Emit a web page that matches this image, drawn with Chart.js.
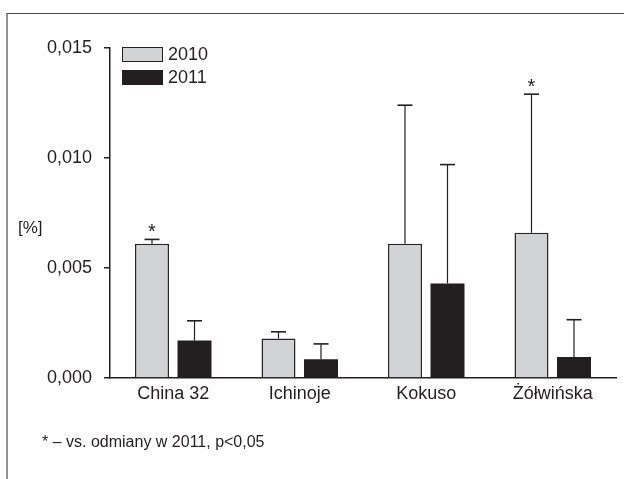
<!DOCTYPE html>
<html>
<head>
<meta charset="utf-8">
<script src="https://cdn.jsdelivr.net/npm/chart.js@4"></script>
<style>
  html, body { margin: 0; padding: 0; background: #fff; }
  #wrap { position: relative; width: 624px; height: 479px; }
</style>
</head>
<body>
<div id="wrap"><canvas id="chart" width="624" height="479"></canvas></div>
<script>
const categories = ['China 32', 'Ichinoje', 'Kokuso', 'Żółwińska'];
const years = ['2010', '2011'];
const values2010 = [0.0061, 0.0018, 0.0061, 0.0066];
const values2011 = [0.0017, 0.00085, 0.0043, 0.00095];
const sd2010 = [0.0002, 0.0003, 0.0063, 0.0063];
const sd2011 = [0.0009, 0.0007, 0.0054, 0.0017];
const signif2010 = [true, false, false, true];
const yTicks = [0, 0.005, 0.010, 0.015];

const FONT = '"Liberation Sans", Arial, sans-serif';
const INK = '#231f20';

// frame, unit label and footnote
const decorations = {
    id: 'decorations',
    beforeDraw(chart) {
        const ctx = chart.ctx;
        ctx.save();
        ctx.strokeStyle = '#4a4a4a';
        ctx.lineWidth = 1.2;
        ctx.beginPath();
        ctx.moveTo(7, 479);
        ctx.lineTo(7, 13.5);
        ctx.lineTo(624, 13.5);
        ctx.stroke();
        ctx.restore();
    },
    afterDraw(chart) {
        const ctx = chart.ctx;
        ctx.save();
        ctx.fillStyle = INK;
        ctx.font = '17px ' + FONT;
        ctx.textBaseline = 'middle';
        ctx.fillText('[%]', 18, 228);
        ctx.font = '16px ' + FONT;
        ctx.fillText('* – vs. odmiany w 2011, p<0,05', 42, 443);
        ctx.restore();
    }
};

// upper error whiskers and significance stars
const errorBars = {
    id: 'errorBars',
    afterDatasetsDraw(chart) {
        const ctx = chart.ctx;
        const y = chart.scales.y;
        const sds = [sd2010, sd2011];
        ctx.save();
        ctx.strokeStyle = INK;
        chart.data.datasets.forEach((ds, di) => {
            chart.getDatasetMeta(di).data.forEach((bar, i) => {
                const top = y.getPixelForValue(ds.data[i] + sds[di][i]);
                ctx.lineWidth = 1.2;
                ctx.beginPath();
                ctx.moveTo(bar.x, bar.y);
                ctx.lineTo(bar.x, top);
                ctx.stroke();
                ctx.lineWidth = 1.6;
                ctx.beginPath();
                ctx.moveTo(bar.x - 7.5, top);
                ctx.lineTo(bar.x + 7.5, top);
                ctx.stroke();
                if (di === 0 && signif2010[i]) {
                    ctx.fillStyle = INK;
                    ctx.font = '20px ' + FONT;
                    ctx.textAlign = 'center';
                    ctx.textBaseline = 'alphabetic';
                    ctx.fillText('*', bar.x, top - 1);
                }
            });
        });
        ctx.restore();
    }
};

// legend drawn inside the plot, top left
const boxLegend = {
    id: 'boxLegend',
    afterDraw(chart) {
        const ctx = chart.ctx;
        ctx.save();
        ctx.font = '18px ' + FONT;
        ctx.textBaseline = 'middle';
        chart.data.datasets.forEach((ds, i) => {
            const bx = 122, by = 47 + i * 23;
            ctx.fillStyle = ds.backgroundColor;
            ctx.fillRect(bx, by, 41, 15);
            ctx.strokeStyle = INK;
            ctx.lineWidth = 1;
            ctx.strokeRect(bx + 0.5, by + 0.5, 40, 14);
            ctx.fillStyle = INK;
            ctx.fillText(ds.label, bx + 46, by + 8);
        });
        ctx.restore();
    }
};

new Chart(document.getElementById('chart'), {
    type: 'bar',
    data: {
        labels: categories,
        datasets: [
            {
                label: years[0],
                data: values2010,
                backgroundColor: '#d2d3d5',
                borderColor: '#2a2627',
                borderWidth: 1.5,
                borderSkipped: 'bottom'
            },
            {
                label: years[1],
                data: values2011,
                backgroundColor: INK,
                borderColor: INK,
                borderWidth: 0
            }
        ]
    },
    options: {
        responsive: false,
        animation: false,
        layout: { padding: { left: 0, top: 48, right: 8, bottom: 71 } },
        datasets: { bar: { categoryPercentage: 0.672, barPercentage: 0.8 } },
        plugins: {
            legend: { display: false },
            tooltip: { enabled: false }
        },
        scales: {
            x: {
                grid: { display: false, drawTicks: false },
                border: { display: true, color: INK, width: 1.5 },
                ticks: { color: INK, font: { family: FONT, size: 18 }, padding: 5, maxRotation: 0 },
                afterFit(scale) { scale.height = 30; }
            },
            y: {
                min: 0,
                max: 0.015,
                afterBuildTicks(scale) { scale.ticks = yTicks.map(v => ({ value: v })); },
                grid: { drawOnChartArea: false, drawTicks: true, tickLength: 6, color: INK, lineWidth: 1.5 },
                border: { display: true, color: INK, width: 1.5 },
                ticks: {
                    color: INK,
                    font: { family: FONT, size: 18 },
                    padding: 12,
                    callback: v => v.toFixed(3).replace('.', ',')
                },
                afterFit(scale) { scale.width = 110; }
            }
        }
    },
    plugins: [decorations, errorBars, boxLegend]
});
</script>
</body>
</html>
